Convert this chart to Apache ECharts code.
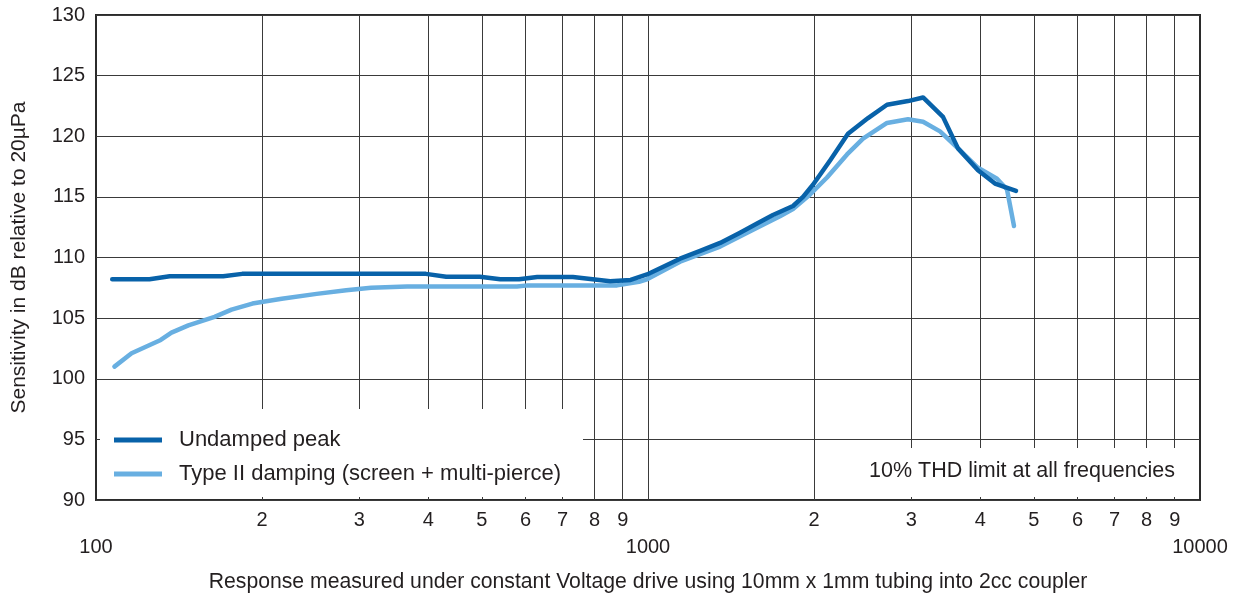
<!DOCTYPE html>
<html>
<head>
<meta charset="utf-8">
<script src="https://cdn.jsdelivr.net/npm/echarts@6/dist/echarts.min.js"></script>
<style>
html,body{margin:0;padding:0;background:#fff;}
#c{width:1236px;height:595px;}
</style>
</head>
<body>
<div id="c"></div>
<script>
// ---- data (frequency in Hz, sensitivity in dB re 20µPa) ----
const undampedFreq = [107, 125, 136, 170, 184, 396, 431, 496, 540, 584, 630, 731, 854, 930, 996, 1143, 1243, 1351, 1468, 1576, 1684, 1831, 1909, 1990, 2137, 2303, 2504, 2710, 2958, 3150, 3423, 3644, 3961, 4252, 4642];
const undampedDb   = [108.2, 108.2, 108.45, 108.45, 108.65, 108.65, 108.42, 108.42, 108.2, 108.2, 108.4, 108.4, 108.05, 108.15, 108.6, 109.9, 110.55, 111.2, 112.05, 112.8, 113.5, 114.25, 115.0, 116.0, 118.0, 120.2, 121.5, 122.6, 122.9, 123.2, 121.6, 119.0, 117.2, 116.1, 115.5];

const dampedFreq = [108, 116, 131, 137, 147, 164, 176, 192, 217, 251, 284, 315, 366, 579, 606, 879, 963, 996, 1143, 1351, 1576, 1734, 1831, 1966, 2110, 2294, 2452, 2710, 2958, 3150, 3381, 3644, 3961, 4288, 4471, 4603];
const dampedDb   = [101.0, 102.1, 103.2, 103.8, 104.4, 105.1, 105.7, 106.2, 106.6, 107.0, 107.3, 107.5, 107.6, 107.6, 107.7, 107.7, 108.0, 108.2, 109.65, 110.9, 112.45, 113.4, 114.0, 115.2, 116.6, 118.5, 119.8, 121.1, 121.4, 121.2, 120.4, 119.0, 117.4, 116.5, 115.6, 112.6];

const seriesNames = ['Undamped peak', 'Type II damping (screen + multi-pierce)'];
const minorTickValues = [200, 300, 400, 500, 600, 700, 800, 900, 2000, 3000, 4000, 5000, 6000, 7000, 8000, 9000];
const gridLineValues = [200, 300, 400, 500, 600, 700, 800, 900, 1000, 2000, 3000, 4000, 5000, 6000, 7000, 8000, 9000];
const decadeValues = [100, 1000, 10000];
const yTicks = [90, 95, 100, 105, 110, 115, 120, 125, 130];
const xTitle = 'Response measured under constant Voltage drive using 10mm x 1mm tubing into 2cc coupler';
const yTitle = 'Sensitivity in dB relative to 20µPa';
const noteText = '10% THD limit at all frequencies';

const FONT = '"Liberation Sans", Arial, Helvetica, sans-serif';
const TXT = '#231f20';
const DARK = '#0862a9';
const LIGHT = '#68afe1';

const zip = (xs, ys) => xs.map((x, i) => [x, ys[i]]);

const chart = echarts.init(document.getElementById('c'), null, {renderer: 'canvas'});
chart.setOption({
  animation: false,
  backgroundColor: '#fff',
  textStyle: {fontFamily: FONT},
  grid: {left: 96, right: 36, top: 15, bottom: 95, containLabel: false, outerBoundsMode: 'none',
         show: true, borderColor: '#2b2b2b', borderWidth: 2, backgroundColor: 'transparent'},
  xAxis: [
    {
      type: 'log', logBase: 10, min: 100, max: 10000,
      axisLine: {show: false},
      axisTick: {show: false, customValues: gridLineValues},
      axisLabel: {
        customValues: minorTickValues,
        formatter: v => String(Math.round(v / Math.pow(10, Math.floor(Math.log10(v) + 1e-9)))),
        fontSize: 20, color: TXT, margin: 10, fontFamily: FONT
      },
      splitLine: {show: true, lineStyle: {color: '#3a3a3a', width: 1}},
      name: xTitle, nameLocation: 'middle', nameGap: 72,
      nameTextStyle: {fontSize: 21.2, color: TXT, fontFamily: FONT}
    },
    {
      type: 'log', logBase: 10, min: 100, max: 10000, position: 'bottom',
      axisLine: {show: false}, axisTick: {show: false}, splitLine: {show: false},
      axisLabel: {customValues: decadeValues, formatter: v => String(Math.round(v)),
                  fontSize: 20, color: TXT, margin: 37, fontFamily: FONT, showMinLabel: true, showMaxLabel: true}
    }
  ],
  yAxis: {
    type: 'value', min: yTicks[0], max: yTicks[yTicks.length - 1], interval: 5,
    axisLine: {show: false}, axisTick: {show: false},
    axisLabel: {fontSize: 20, color: TXT, margin: 11, fontFamily: FONT},
    splitLine: {show: true, lineStyle: {color: '#3a3a3a', width: 1}},
    name: yTitle, nameLocation: 'middle', nameGap: 66, nameRotate: 90,
    nameTextStyle: {fontSize: 21, color: TXT, fontFamily: FONT}
  },
  legend: {
    orient: 'vertical', left: 114, top: 429, padding: 0,
    itemWidth: 48, itemHeight: 5, itemGap: 12, icon: 'rect',
    data: seriesNames,
    textStyle: {fontSize: 22, color: TXT, lineHeight: 20, padding: [0, 0, 0, 12], fontFamily: FONT}
  },
  graphic: [
    {type: 'rect', z: 1, shape: {x: 100, y: 409, width: 483, height: 88}, style: {fill: '#fff'}},
    {type: 'rect', z: 1, shape: {x: 815, y: 448, width: 384, height: 49}, style: {fill: '#fff'}},
    {type: 'text', z: 3, style: {text: noteText, x: 1175, y: 471, align: 'right', verticalAlign: 'middle', fontSize: 21.5, fill: TXT, fontFamily: FONT}}
  ],
  series: [
    {
      name: seriesNames[1], type: 'line', xAxisIndex: 0, showSymbol: false, symbol: 'none',
      data: zip(dampedFreq, dampedDb), color: LIGHT,
      lineStyle: {width: 4.5, color: LIGHT, cap: 'round', join: 'round'}, z: 2
    },
    {
      name: seriesNames[0], type: 'line', xAxisIndex: 0, showSymbol: false, symbol: 'none',
      data: zip(undampedFreq, undampedDb), color: DARK,
      lineStyle: {width: 4.5, color: DARK, cap: 'round', join: 'round'}, z: 3
    }
  ]
});
</script>
</body>
</html>
